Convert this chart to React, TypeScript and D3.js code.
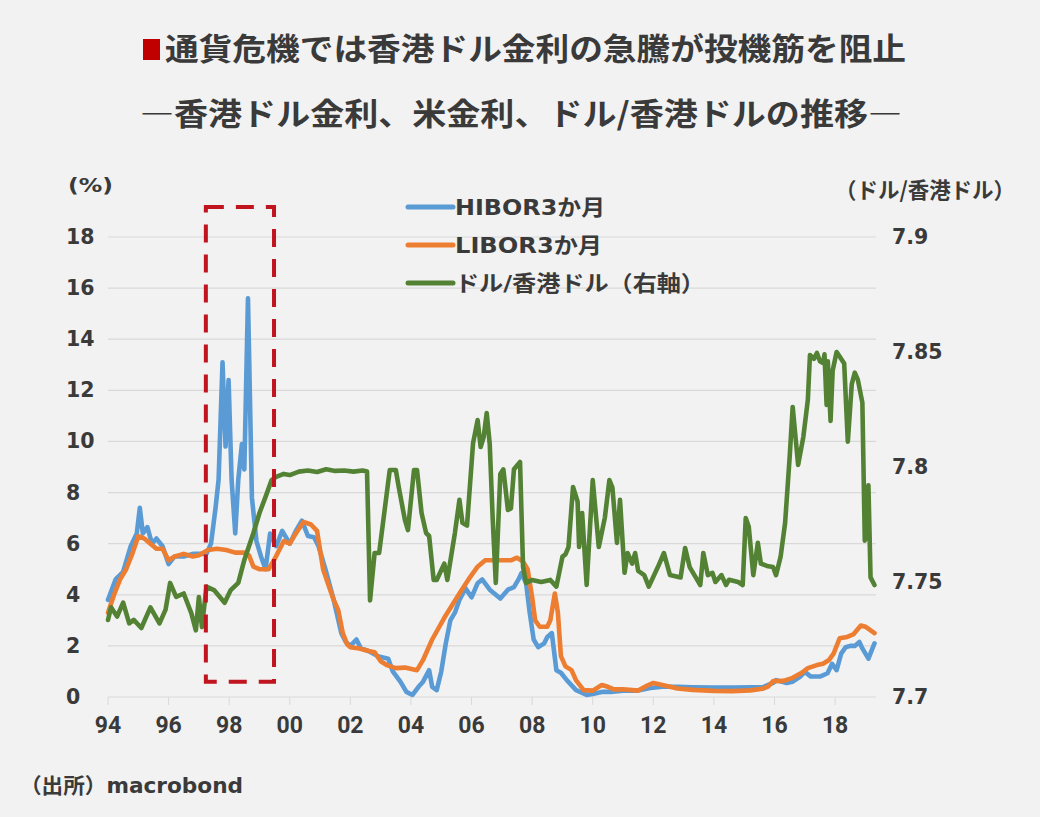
import React from "react";
import * as d3 from "d3";

const title1 = "通貨危機では香港ドル金利の急騰が投機筋を阻止";
const title2 = "―香港ドル金利、米金利、ドル/香港ドルの推移―";
const leftTicks = [0, 2, 4, 6, 8, 10, 12, 14, 16, 18];
const rightTicks = [7.7, 7.75, 7.8, 7.85, 7.9];
const rightTickLabels = ["7.7", "7.75", "7.8", "7.85", "7.9"];
const xTickYears = [1994, 1996, 1998, 2000, 2002, 2004, 2006, 2008, 2010, 2012, 2014, 2016, 2018];
const xTickLabels = ["94", "96", "98", "00", "02", "04", "06", "08", "10", "12", "14", "16", "18"];
const seriesNames = ["HIBOR3か月", "LIBOR3か月", "ドル/香港ドル（右軸）"];
const seriesColors = ["#5b9bd5", "#ed7d31", "#548235"];
// highlight box: [startYear, endYear, topValue, bottomValue] in left-axis units
const crisisBox = [1997.23, 1999.48, 19.17, 0.6];

const hibor: [number, number][] = [
  [1994.0, 3.8], [1994.25, 4.6], [1994.5, 4.9], [1994.75, 5.9], [1994.95, 6.4], [1995.05, 7.4],
  [1995.15, 6.4], [1995.3, 6.65], [1995.45, 6.0], [1995.6, 6.2], [1995.8, 5.9], [1996.0, 5.2],
  [1996.2, 5.5], [1996.5, 5.5], [1996.8, 5.6], [1997.0, 5.6], [1997.25, 5.6], [1997.4, 6.0],
  [1997.55, 7.4], [1997.65, 8.5], [1997.78, 13.1], [1997.88, 9.8], [1997.98, 12.4], [1998.08, 8.5],
  [1998.2, 6.4], [1998.3, 8.5], [1998.42, 9.9], [1998.5, 8.9], [1998.62, 15.6], [1998.75, 7.8],
  [1998.9, 6.1], [1999.05, 5.5], [1999.2, 5.0], [1999.35, 6.4], [1999.55, 5.9], [1999.75, 6.5],
  [2000.0, 6.0], [2000.2, 6.5], [2000.4, 6.9], [2000.6, 6.3], [2000.8, 6.25], [2000.95, 5.9],
  [2001.2, 4.9], [2001.45, 3.8], [2001.7, 2.5], [2001.85, 2.15], [2002.0, 2.0], [2002.2, 2.25],
  [2002.35, 1.9], [2002.6, 1.8], [2002.9, 1.6], [2003.25, 1.5], [2003.4, 1.0], [2003.65, 0.6],
  [2003.85, 0.2], [2004.05, 0.08], [2004.25, 0.4], [2004.4, 0.6], [2004.6, 1.05], [2004.7, 0.4],
  [2004.85, 0.27], [2005.0, 1.0], [2005.15, 2.1], [2005.3, 3.0], [2005.45, 3.3], [2005.6, 3.8],
  [2005.8, 4.25], [2006.0, 3.9], [2006.2, 4.45], [2006.35, 4.6], [2006.6, 4.2], [2006.95, 3.85],
  [2007.2, 4.2], [2007.4, 4.3], [2007.55, 4.6], [2007.65, 4.85], [2007.8, 4.45], [2007.92, 3.3],
  [2008.05, 2.25], [2008.2, 1.95], [2008.4, 2.1], [2008.5, 2.35], [2008.65, 2.5], [2008.8, 1.05],
  [2008.95, 0.95], [2009.15, 0.65], [2009.45, 0.27], [2009.8, 0.08], [2010.0, 0.12], [2010.3, 0.2],
  [2010.6, 0.2], [2011.0, 0.25], [2011.5, 0.25], [2011.9, 0.35], [2012.3, 0.4], [2012.8, 0.4],
  [2013.3, 0.38], [2014.0, 0.37], [2014.6, 0.37], [2015.2, 0.38], [2015.6, 0.38], [2015.95, 0.55],
  [2016.05, 0.66], [2016.4, 0.55], [2016.6, 0.6], [2016.85, 0.8], [2017.0, 0.98], [2017.2, 0.8],
  [2017.5, 0.8], [2017.75, 0.93], [2017.9, 1.3], [2018.05, 1.05], [2018.2, 1.7], [2018.35, 1.95],
  [2018.5, 2.0], [2018.65, 2.0], [2018.8, 2.15], [2018.9, 1.9], [2019.1, 1.5], [2019.3, 2.1],
];

const libor: [number, number][] = [
  [1994.0, 3.3], [1994.2, 4.0], [1994.4, 4.6], [1994.6, 5.0], [1994.8, 5.6], [1995.0, 6.3],
  [1995.2, 6.2], [1995.4, 6.0], [1995.6, 5.8], [1995.8, 5.8], [1996.0, 5.35], [1996.2, 5.5],
  [1996.5, 5.6], [1996.8, 5.5], [1997.0, 5.55], [1997.3, 5.75], [1997.6, 5.8], [1997.9, 5.75],
  [1998.2, 5.65], [1998.5, 5.65], [1998.65, 5.55], [1998.8, 5.1], [1999.0, 5.0], [1999.3, 5.0],
  [1999.5, 5.4], [1999.8, 6.1], [2000.0, 6.0], [2000.2, 6.4], [2000.45, 6.85], [2000.7, 6.75],
  [2000.9, 6.5], [2001.1, 5.0], [2001.3, 4.3], [2001.45, 3.8], [2001.6, 3.4], [2001.75, 2.5],
  [2001.9, 2.05], [2002.0, 1.95], [2002.3, 1.9], [2002.6, 1.8], [2002.8, 1.75], [2003.0, 1.4],
  [2003.2, 1.25], [2003.5, 1.13], [2003.8, 1.15], [2004.2, 1.05], [2004.4, 1.45], [2004.7, 2.25],
  [2005.1, 3.1], [2005.6, 4.05], [2005.9, 4.6], [2006.2, 5.1], [2006.45, 5.35], [2006.7, 5.35],
  [2007.0, 5.35], [2007.3, 5.35], [2007.5, 5.45], [2007.7, 5.3], [2007.85, 5.0], [2008.0, 3.9],
  [2008.1, 3.0], [2008.25, 2.75], [2008.5, 2.75], [2008.6, 3.0], [2008.75, 4.05], [2008.85, 3.3],
  [2008.95, 1.6], [2009.1, 1.2], [2009.3, 1.05], [2009.45, 0.65], [2009.7, 0.27], [2010.0, 0.25],
  [2010.3, 0.47], [2010.5, 0.4], [2010.7, 0.3], [2011.0, 0.3], [2011.5, 0.25], [2011.8, 0.45],
  [2012.0, 0.55], [2012.3, 0.47], [2012.8, 0.33], [2013.3, 0.28], [2014.0, 0.24], [2014.6, 0.23],
  [2015.2, 0.26], [2015.6, 0.32], [2015.8, 0.42], [2015.95, 0.62], [2016.3, 0.63], [2016.6, 0.75],
  [2016.9, 0.95], [2017.1, 1.13], [2017.4, 1.25], [2017.6, 1.3], [2017.8, 1.45], [2017.95, 1.7],
  [2018.15, 2.3], [2018.4, 2.35], [2018.6, 2.45], [2018.85, 2.8], [2019.0, 2.75], [2019.3, 2.5],
];

const usdhkd: [number, number][] = [
  [1994.0, 7.7335], [1994.1, 7.739], [1994.3, 7.735], [1994.5, 7.741], [1994.7, 7.732],
  [1994.85, 7.7335], [1995.1, 7.73], [1995.4, 7.739], [1995.7, 7.732], [1995.9, 7.738],
  [1996.05, 7.7496], [1996.25, 7.7435], [1996.5, 7.745], [1996.75, 7.7365], [1996.9, 7.729],
  [1997.0, 7.7435], [1997.1, 7.7304], [1997.25, 7.748], [1997.5, 7.7465], [1997.85, 7.741],
  [1998.05, 7.7465], [1998.3, 7.7496], [1998.5, 7.7596], [1998.8, 7.7713], [1999.0, 7.78],
  [1999.2, 7.787], [1999.4, 7.7943], [1999.55, 7.7957], [1999.8, 7.797], [2000.0, 7.7965],
  [2000.3, 7.798], [2000.6, 7.7985], [2000.9, 7.7978], [2001.2, 7.799], [2001.5, 7.7983],
  [2001.8, 7.7985], [2002.1, 7.798], [2002.4, 7.7985], [2002.55, 7.798], [2002.65, 7.742],
  [2002.8, 7.7626], [2002.95, 7.7626], [2003.3, 7.7987], [2003.5, 7.7987], [2003.6, 7.791],
  [2003.8, 7.777], [2003.9, 7.7726], [2004.1, 7.7987], [2004.2, 7.7987], [2004.35, 7.78],
  [2004.5, 7.7713], [2004.6, 7.77], [2004.75, 7.7509], [2004.85, 7.7509], [2005.1, 7.758],
  [2005.2, 7.7509], [2005.45, 7.7713], [2005.6, 7.7857], [2005.7, 7.7757], [2005.85, 7.7745],
  [2006.05, 7.8104], [2006.2, 7.8204], [2006.3, 7.8087], [2006.4, 7.813], [2006.5, 7.8235],
  [2006.6, 7.81], [2006.7, 7.777], [2006.8, 7.7496], [2006.95, 7.797], [2007.05, 7.799],
  [2007.2, 7.7813], [2007.3, 7.782], [2007.4, 7.799], [2007.6, 7.8022], [2007.7, 7.7565],
  [2007.8, 7.7496], [2008.0, 7.7509], [2008.3, 7.75], [2008.6, 7.7509], [2008.8, 7.748],
  [2009.0, 7.761], [2009.1, 7.762], [2009.2, 7.7652], [2009.35, 7.7913], [2009.5, 7.785],
  [2009.55, 7.7652], [2009.65, 7.78], [2009.8, 7.7487], [2010.0, 7.7943], [2010.2, 7.7652],
  [2010.4, 7.778], [2010.55, 7.7943], [2010.65, 7.791], [2010.8, 7.767], [2010.9, 7.7857],
  [2011.05, 7.754], [2011.15, 7.7626], [2011.3, 7.758], [2011.4, 7.7626], [2011.5, 7.7548],
  [2011.7, 7.753], [2011.85, 7.748], [2012.15, 7.7565], [2012.35, 7.7626], [2012.55, 7.753],
  [2012.9, 7.752], [2013.05, 7.7648], [2013.2, 7.7565], [2013.4, 7.752], [2013.55, 7.7487],
  [2013.65, 7.7626], [2013.8, 7.753], [2013.95, 7.754], [2014.05, 7.75], [2014.25, 7.753],
  [2014.4, 7.7487], [2014.5, 7.751], [2014.8, 7.75], [2014.95, 7.7487], [2015.05, 7.7778],
  [2015.15, 7.774], [2015.3, 7.753], [2015.45, 7.767], [2015.55, 7.758], [2015.75, 7.757],
  [2015.95, 7.7565], [2016.05, 7.753], [2016.2, 7.7609], [2016.35, 7.7757], [2016.5, 7.8043],
  [2016.6, 7.8261], [2016.7, 7.812], [2016.78, 7.8009], [2016.95, 7.813], [2017.1, 7.8291],
  [2017.17, 7.8487], [2017.3, 7.847], [2017.4, 7.8496], [2017.5, 7.846], [2017.6, 7.8452],
  [2017.65, 7.849], [2017.72, 7.827], [2017.76, 7.846], [2017.85, 7.82], [2017.92, 7.842],
  [2018.05, 7.85], [2018.15, 7.848], [2018.3, 7.845], [2018.42, 7.811], [2018.55, 7.836],
  [2018.65, 7.841], [2018.75, 7.838], [2018.9, 7.828], [2018.98, 7.768], [2019.05, 7.77],
  [2019.1, 7.792], [2019.17, 7.752], [2019.3, 7.7487],
];

const W = 1040;
const H = 817;
const textColor = "#3a3a3a";
const cjk = "'DejaVu Sans', 'Noto Sans CJK JP', 'Noto Sans', sans-serif";
const cjkTitle = "'Noto Sans CJK JP', sans-serif";
const num = "'DejaVu Sans', Verdana, sans-serif";

export default function App() {
  const x = d3.scaleLinear().domain([1994, 2019.35]).range([108, 876]);
  const yL = d3.scaleLinear().domain([0, 18]).range([697, 237]);
  const yR = d3.scaleLinear().domain([7.7, 7.9]).range([697, 237]);

  const lineL = d3
    .line<[number, number]>()
    .x((d) => x(d[0]))
    .y((d) => yL(d[1]));
  const lineR = d3
    .line<[number, number]>()
    .x((d) => x(d[0]))
    .y((d) => yR(d[1]));

  const [bx0, bx1, bTop, bBot] = crisisBox;
  const legendWidths = [150, 147, 250];

  return (
    <svg
      width={W}
      height={H}
      style={{ position: "absolute", left: 0, top: 0, background: "#f2f2f2" }}
    >
      <rect x={0} y={0} width={W} height={H} fill="#f2f2f2" />
      {/* titles */}
      <rect x={143} y={39} width={17} height={21} fill="#c00000" />
      <text x={165} y={60} fontFamily={cjkTitle} fontWeight="bold" fontSize={31} fill={textColor} textLength={741} lengthAdjust="spacingAndGlyphs">
        {title1}
      </text>
      <text x={140} y={125} fontFamily={cjkTitle} fontWeight="bold" fontSize={31} fill={textColor} textLength={762} lengthAdjust="spacingAndGlyphs">
        {title2}
      </text>

      {/* gridlines */}
      {leftTicks.map((t) => (
        <line key={"g" + t} x1={108} x2={876} y1={yL(t)} y2={yL(t)} stroke="#d9d9d9" strokeWidth={1.2} />
      ))}
      {xTickYears.map((yr) => (
        <line key={"xt" + yr} x1={x(yr)} x2={x(yr)} y1={697} y2={705} stroke="#d9d9d9" strokeWidth={1} />
      ))}

      {/* left axis labels */}
      <text x={68} y={192} fontFamily={num} fontWeight="bold" fontSize={20} fill={textColor} textLength={45} lengthAdjust="spacingAndGlyphs">
        (%)
      </text>
      {leftTicks.map((t) => (
        <text key={"l" + t} x={66} y={yL(t) + 7} fontFamily={num} fontWeight="bold" fontSize={20.5} fill={textColor}>
          {t}
        </text>
      ))}
      {/* right axis */}
      <text x={835} y={198} fontFamily={cjkTitle} fontWeight="bold" fontSize={22} fill={textColor} textLength={180} lengthAdjust="spacingAndGlyphs">
        （ドル/香港ドル）
      </text>
      {rightTicks.map((t, i) => (
        <text key={"r" + t} x={892} y={yR(t) + 7} fontFamily={num} fontWeight="bold" fontSize={20.5} fill={textColor}>
          {rightTickLabels[i]}
        </text>
      ))}
      {/* x labels */}
      {xTickYears.map((yr, i) => (
        <text key={"xl" + yr} x={x(yr)} y={733} textAnchor="middle" fontFamily="'Liberation Sans Narrow', 'Roboto', sans-serif" fontWeight="bold" fontSize={23} fill={textColor}>
          {xTickLabels[i]}
        </text>
      ))}

      {/* data lines */}
      <path d={lineL(hibor) || ""} fill="none" stroke={seriesColors[0]} strokeWidth={4.6} strokeLinejoin="round" strokeLinecap="round" />
      <path d={lineL(libor) || ""} fill="none" stroke={seriesColors[1]} strokeWidth={4.6} strokeLinejoin="round" strokeLinecap="round" />
      <path d={lineR(usdhkd) || ""} fill="none" stroke={seriesColors[2]} strokeWidth={4.6} strokeLinejoin="round" strokeLinecap="round" />

      {/* crisis box */}
      <rect
        x={x(bx0)}
        y={yL(bTop)}
        width={x(bx1) - x(bx0)}
        height={yL(bBot) - yL(bTop)}
        fill="none"
        stroke="#c0141e"
        strokeWidth={4}
        strokeDasharray="18 12"
      />

      {/* legend */}
      {seriesNames.map((n, i) => (
        <g key={n} transform={`translate(408, ${207 + i * 38})`}>
          <line x1={0} x2={45} y1={0} y2={0} stroke={seriesColors[i]} strokeWidth={5} strokeLinecap="round" />
          <text x={47} y={8} fontFamily={cjk} fontWeight="bold" fontSize={22} fill={textColor} textLength={legendWidths[i]} lengthAdjust="spacingAndGlyphs">
            {n}
          </text>
        </g>
      ))}

      {/* source */}
      <text x={20} y={793} fontFamily={cjk} fontWeight="bold" fontSize={21} fill={textColor} textLength={223} lengthAdjust="spacingAndGlyphs">
        （出所）macrobond
      </text>
    </svg>
  );
}
